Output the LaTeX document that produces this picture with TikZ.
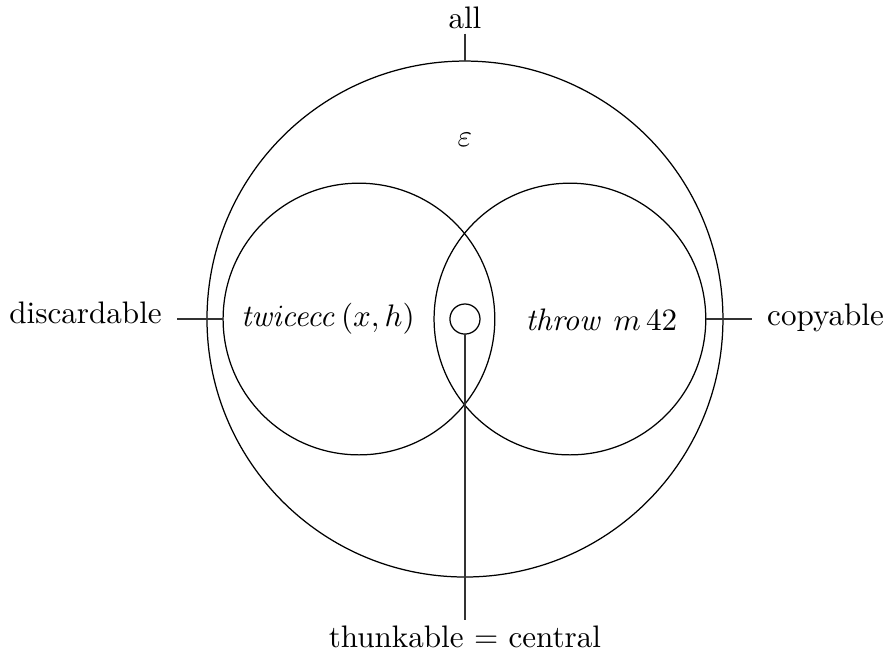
\documentclass[tikz,border=0pt]{standalone}
\usepackage{amsmath,amssymb}
\usepackage{tikz}
\usetikzlibrary{positioning,calc}

\begin{document}
\begin{tikzpicture}[
  font=\normalsize,
  ring/.style={draw,circle,inner sep=0pt,outer sep=0pt},
  tag/.style={inner xsep=4.7pt,inner ysep=1.5pt},
  wire/.style={black!80},
]
\useasboundingbox (-5.254,-3.808) rectangle (4.814,3.605);
% the three classes
\node[ring,minimum size=5.83cm] (univ) at (0,0) {};
\node[ring,minimum size=3.07cm] (disc) at (-1.198,0) {};
\node[ring,minimum size=3.07cm] (copy) at (1.186,0) {};
\node[ring,minimum size=0.34cm] (cent) at (0,0) {};
% contents
\node[anchor=base] (eps) at (0,1.944) {$\varepsilon$};
\node[anchor=base] (twice) at (-1.548,-0.087) {$\mathit{twicecc}\,(x,h)$};
\node[anchor=base] (throw) at (1.542,-0.125) {$\mathit{throw}~m\,42$};
% names
\node[tag,anchor=base] (allLbl) at (0,3.288) {all};
\node[tag,anchor=base east] (discLbl) at (-3.254,-0.045) {discardable};
\node[tag,anchor=base west] (copyLbl) at (3.243,-0.068) {copyable};
\node[tag,anchor=base] (centLbl) at (0,-3.706) {thunkable $=$ central};
\draw[wire] (allLbl.south) -- (univ.north);
\draw[wire] (disc.west) -- (disc.west -| discLbl.east);
\draw[wire] (copy.east) -- (copy.east -| copyLbl.west);
\draw[wire] (cent.south) -- (centLbl.north);
\end{tikzpicture}
\end{document}
